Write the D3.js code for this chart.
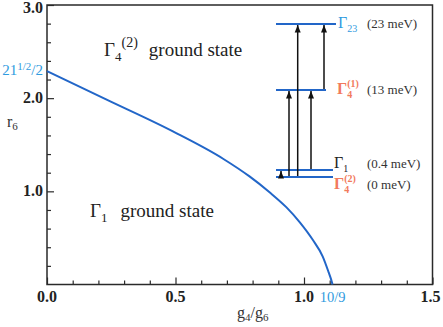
<!DOCTYPE html>
<html><head><meta charset="utf-8">
<script src="https://cdn.jsdelivr.net/npm/d3@7"></script>
<style>body{margin:0;background:#fff}svg{display:block}</style>
</head><body><svg id="c" width="443" height="327"></svg>
<script>
// ---- data ----
const boundaryX = [0, 0.232, 0.49, 0.685, 0.788, 0.866, 0.931, 0.983, 1.034, 1.073, 1.096, 1.106, 1.111];
const boundaryY = [2.291, 1.984, 1.643, 1.35, 1.16, 0.99, 0.83, 0.67, 0.48, 0.30, 0.13, 0.05, 0];
const xMajorTicks = [0, 0.5, 1.0, 1.5];
const xTickLabels = ["0.0", "0.5", "1.0", "1.5"];
const yMajorTicks = [1, 2, 3];
const yTickLabels = ["1.0", "2.0", "3.0"];
const levelNames = ["Γ4(2)", "Γ1", "Γ4(1)", "Γ23"];
const levelEnergies = [0, 0.4, 13, 23];
const levelEnergyLabels = ["(0 meV)", "(0.4 meV)", "(13 meV)", "(23 meV)"];
const transitionsFrom = [0, 0, 0, 1, 2];
const transitionsTo = [1, 2, 3, 2, 3];

const svg = d3.select("#c");
const x = d3.scaleLinear().domain([0, 1.5]).range([47, 432.5]);
const y = d3.scaleLinear().domain([0, 3]).range([284.5, 5]);
const axisCol = "#2a2a2a";
const lightBlue = "#2f9be0";
const orange = "#f27a5c";
const lineBlue = "#2266c8";

function txt(sel) { return sel.append("text").style("font-family", '"Liberation Serif"'); }

// ticks
const xMinor = d3.range(0, 1.5001, 0.1).map(v => +v.toFixed(2)).filter(v => !xMajorTicks.some(m => Math.abs(m - v) < 1e-6));
const yMinor = d3.range(0, 3.0001, 0.2).map(v => +v.toFixed(2)).filter(v => !yMajorTicks.some(m => Math.abs(m - v) < 1e-6) && v > 0);

function styleAxis(g) { g.select(".domain").remove(); g.selectAll("line").attr("stroke", axisCol).attr("stroke-width", 1.2); }
svg.append("g").attr("transform", `translate(0,${y(0)})`).call(d3.axisBottom(x).tickValues(xMinor).tickSize(-4).tickFormat("")).call(styleAxis);
svg.append("g").attr("transform", `translate(0,${y(0)})`).call(d3.axisBottom(x).tickValues(xMajorTicks).tickSize(-7).tickFormat("")).call(styleAxis);
svg.append("g").attr("transform", `translate(${x(0)},0)`).call(d3.axisLeft(y).tickValues(yMinor).tickSize(-4).tickFormat("")).call(styleAxis);
svg.append("g").attr("transform", `translate(${x(0)},0)`).call(d3.axisLeft(y).tickValues(yMajorTicks).tickSize(-7).tickFormat("")).call(styleAxis);

// frame
svg.append("rect").attr("x", x(0)).attr("y", y(3)).attr("width", x(1.5) - x(0)).attr("height", y(0) - y(3))
  .attr("fill", "none").attr("stroke", axisCol).attr("stroke-width", 1.5);

// tick labels
xMajorTicks.forEach((d, i) => {
  txt(svg).attr("x", x(d) - (i === 3 ? 2 : 0)).attr("y", 302).attr("text-anchor", "middle")
    .attr("font-size", 16).attr("font-weight", "bold").attr("fill", "#222").text(xTickLabels[i]);
});
yMajorTicks.forEach((d, i) => {
  txt(svg).attr("x", 43).attr("y", Math.max(y(d) + 5, 13)).attr("text-anchor", "end")
    .attr("font-size", 16).attr("font-weight", "bold").attr("fill", "#222").text(yTickLabels[i]);
});

// special labels
txt(svg).attr("x", x(10 / 9)).attr("y", 302).attr("text-anchor", "middle")
  .attr("font-size", 14.5).attr("fill", lightBlue).text("10/9");
const sq = txt(svg).attr("x", 43).attr("y", y(Math.sqrt(21) / 2) + 4).attr("text-anchor", "end")
  .attr("font-size", 15).attr("fill", lightBlue);
sq.append("tspan").text("21");
sq.append("tspan").attr("dy", -5).attr("font-size", 11).text("1/2");
sq.append("tspan").attr("dy", 5).text("/2");

// axis titles
const xt = txt(svg).attr("x", 237).attr("y", 318).attr("font-size", 16).attr("fill", "#333");
xt.append("tspan").text("g");
xt.append("tspan").attr("dy", 3).attr("font-size", 11).text("4");
xt.append("tspan").attr("dy", -3).text("/g");
xt.append("tspan").attr("dy", 3).attr("font-size", 11).text("6");
const yt = txt(svg).attr("x", 7).attr("y", 127).attr("font-size", 16).attr("fill", "#333");
yt.append("tspan").text("r");
yt.append("tspan").attr("dy", 3).attr("font-size", 11).text("6");

// boundary curve
const pts = boundaryX.map((v, i) => [v, boundaryY[i]]);
svg.append("path").datum(pts)
  .attr("d", d3.line().x(d => x(d[0])).y(d => y(d[1])).curve(d3.curveMonotoneX))
  .attr("fill", "none").attr("stroke", lineBlue).attr("stroke-width", 2);

// region labels
const r1 = txt(svg).attr("x", 104).attr("y", 56).attr("font-size", 19).attr("fill", "#222");
r1.append("tspan").text("Γ");
r1.append("tspan").attr("dy", 5).attr("font-size", 13).text("4");
r1.append("tspan").attr("dy", -14).attr("font-size", 14).text("(2)");
r1.append("tspan").attr("dy", 9).attr("dx", 11).text("ground state");
const r2 = txt(svg).attr("x", 90).attr("y", 217).attr("font-size", 19).attr("fill", "#222");
r2.append("tspan").text("Γ");
r2.append("tspan").attr("dy", 5).attr("font-size", 13).text("1");
r2.append("tspan").attr("dy", -5).attr("dx", 13).text("ground state");

// ---- inset level diagram ----
const ly = d3.scaleLinear().domain(levelEnergies).range([177, 170, 90, 24]);
const levelX0 = 276;
const levelX1 = [333, 333, 326, 336];
levelEnergies.forEach((e, i) => {
  svg.append("line").attr("x1", levelX0).attr("x2", levelX1[i]).attr("y1", ly(e)).attr("y2", ly(e))
    .attr("stroke", lineBlue).attr("stroke-width", 2);
});
const arrowX = [281, 289, 297.7, 311, 324];
svg.append("defs").append("marker").attr("id", "ah").attr("viewBox", "0 0 10 10").attr("refX", 10).attr("refY", 5)
  .attr("markerWidth", 5).attr("markerHeight", 5).attr("orient", "auto")
  .append("path").attr("d", "M0,1 L10,5 L0,9 z").attr("fill", "#111");
transitionsFrom.forEach((f, i) => {
  const t = transitionsTo[i];
  svg.append("line").attr("x1", arrowX[i]).attr("x2", arrowX[i])
    .attr("y1", ly(levelEnergies[f]) - 1).attr("y2", ly(levelEnergies[t]) + 1)
    .attr("stroke", "#111").attr("stroke-width", 1.5).attr("marker-end", "url(#ah)");
});
// level labels
const labelCfg = [
  { x: 334, y: 189, col: orange, sub: "4", sup: "(2)", bold: true },
  { x: 334, y: 168, col: "#222", sub: "1", sup: null, bold: false },
  { x: 337, y: 94, col: orange, sub: "4", sup: "(1)", bold: true },
  { x: 338, y: 28, col: lightBlue, sub: "23", sup: null, bold: false }
];
labelCfg.forEach((c, i) => {
  const t = txt(svg).attr("x", c.x).attr("y", c.y).attr("font-size", 16).attr("fill", c.col)
    .attr("font-weight", c.bold ? "bold" : "normal");
  t.append("tspan").text("Γ");
  t.append("tspan").attr("dy", 4).attr("font-size", 10).text(c.sub);
  if (c.sup) t.append("tspan").attr("dx", -5).attr("dy", -11).attr("font-size", 10).text(c.sup);
  txt(svg).attr("x", 367).attr("y", c.y).attr("font-size", 13).attr("fill", "#333").text(levelEnergyLabels[i]);
});
</script></body></html>
